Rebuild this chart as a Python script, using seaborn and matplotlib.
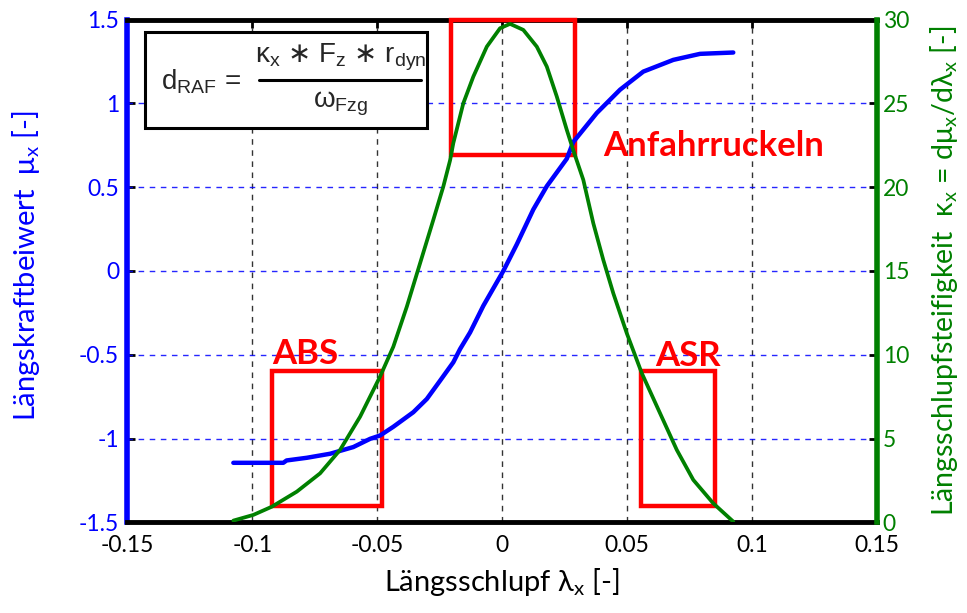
import matplotlib
matplotlib.use("Agg")
import matplotlib.pyplot as plt
import seaborn as sns
import pandas as pd
from matplotlib.patches import Rectangle
from matplotlib.lines import Line2D

# ---- data ----
lam_mu = [-0.1076, -0.0876, -0.0863, -0.0782, -0.0689, -0.0596, -0.0529, -0.0489,
          -0.0436, -0.0356, -0.0302, -0.0249, -0.0196, -0.0169, -0.0129, -0.0076,
          0.0004, 0.0058, 0.0124, 0.0178, 0.0258, 0.0284, 0.0378, 0.0471, 0.0564,
          0.0684, 0.0791, 0.0924]
mu = [-1.145, -1.145, -1.131, -1.115, -1.091, -1.051, -1.002, -0.982,
      -0.930, -0.843, -0.764, -0.655, -0.545, -0.466, -0.367, -0.208,
      0.000, 0.159, 0.367, 0.506, 0.670, 0.770, 0.943, 1.082, 1.190,
      1.260, 1.296, 1.304]

lam_k = [-0.1076, -0.0996, -0.0922, -0.0822, -0.0729, -0.0649, -0.0569, -0.0489,
         -0.0436, -0.0382, -0.0329, -0.0276, -0.0236, -0.0209, -0.0196, -0.0156,
         -0.0116, -0.0062, -0.0009, 0.0031, 0.0084, 0.0138, 0.0178, 0.0218,
         0.0258, 0.0284, 0.0324, 0.0364, 0.0404, 0.0444, 0.0498, 0.0558,
         0.0631, 0.0698, 0.0764, 0.0844, 0.0924]
kappa = [0.10, 0.44, 0.93, 1.83, 2.92, 4.32, 6.30, 8.70,
         10.48, 12.87, 15.46, 18.05, 20.04, 21.60, 22.63, 25.01,
         26.60, 28.39, 29.49, 29.75, 29.39, 28.39, 27.20, 25.41,
         23.42, 22.20, 20.44, 17.85, 15.66, 13.67, 11.28, 8.90,
         6.51, 4.32, 2.53, 1.13, 0.04]

x_ticks = [-0.15, -0.1, -0.05, 0, 0.05, 0.1, 0.15]
x_labels = ["-0.15", "-0.1", "-0.05", "0", "0.05", "0.1", "0.15"]
mu_ticks = [-1.5, -1, -0.5, 0, 0.5, 1, 1.5]
mu_labels = ["-1.5", "-1", "-0.5", "0", "0.5", "1", "1.5"]
k_ticks = [0, 5, 10, 15, 20, 25, 30]
k_labels = ["0", "5", "10", "15", "20", "25", "30"]

# regions: (label, lam_min, lam_max, mu_min, mu_max)
boxes = [("ABS", -0.0922, -0.0482, -1.40, -0.60),
         ("ASR", 0.0555, 0.0851, -1.40, -0.60),
         ("Anfahrruckeln", -0.0206, 0.0291, 0.695, 1.50)]

BLUE = "#0000FF"
GREEN = "#008000"
RED = "#FF0000"

sns.set_style("white")
plt.rcParams["font.family"] = ["Lato", "DejaVu Sans"]

fig = plt.figure(figsize=(9.67, 6.13), dpi=100)
ax = fig.add_axes([0.1317, 0.148, 0.7755, 0.8199])
ax2 = ax.twinx()

df_mu = pd.DataFrame({"lam": lam_mu, "mu": mu})
df_k = pd.DataFrame({"lam": lam_k, "kappa": kappa})

ax.set_xlim(-0.15, 0.15)
ax.set_ylim(-1.5, 1.5)
ax2.set_ylim(0, 30)

# grid
for xv in x_ticks[1:-1]:
    ax.axvline(xv, color="#333333", lw=1.0, ls=(0, (4, 4)), zorder=1)
for yv in mu_ticks[1:-1]:
    ax.axhline(yv, color=BLUE, lw=1.0, ls=(0, (4, 4)), zorder=1, alpha=0.85)

# red boxes
for name, x0, x1, y0, y1 in boxes:
    ax.add_patch(Rectangle((x0, y0), x1 - x0, y1 - y0, fill=False,
                           edgecolor=RED, lw=3.2, zorder=3, clip_on=False))

sns.lineplot(data=df_mu, x="lam", y="mu", ax=ax, color=BLUE, lw=3.2, zorder=4)
sns.lineplot(data=df_k, x="lam", y="kappa", ax=ax2, color=GREEN, lw=2.7, zorder=4)

# region labels
lab_fs = 25
ax.text(-0.0922, -0.555, "ABS", color=RED, fontsize=lab_fs, fontweight="bold",
        ha="left", va="baseline", zorder=5)
ax.text(0.0611, -0.565, "ASR", color=RED, fontsize=lab_fs, fontweight="bold",
        ha="left", va="baseline", zorder=5)
ax.text(0.0404, 0.689, "Anfahrruckeln", color=RED, fontsize=lab_fs, fontweight="bold",
        ha="left", va="baseline", zorder=5)

# formula box
def fx(px):
    return (px - 127.3) / 750.0

def fy(py):
    return (522.3 - py) / 502.6

ax.add_patch(Rectangle((fx(145), fy(128)), fx(427) - fx(145), fy(32) - fy(128),
                       transform=ax.transAxes, facecolor="white",
                       edgecolor="black", lw=2.2, zorder=6))
ffam = "Liberation Sans"
f_fs = 20
ax.text(fx(161), fy(82), r"d$_\mathregular{RAF}$ =", transform=ax.transAxes,
        fontsize=f_fs, family=ffam, ha="left", va="center", zorder=7)
ax.text(fx(341), fy(57),
        r"κ$_\mathregular{x}$ $\ast$ F$_\mathregular{z}$ $\ast$ r$_\mathregular{dyn}$",
        transform=ax.transAxes, fontsize=f_fs, family=ffam, ha="center",
        va="center", zorder=7)
ax.add_line(Line2D([fx(259), fx(421)], [fy(80), fy(80)], transform=ax.transAxes,
                   color="black", lw=2.2, zorder=7))
ax.text(fx(341), fy(104), r"ω$_\mathregular{Fzg}$", transform=ax.transAxes,
        fontsize=f_fs, family=ffam, ha="center", va="center", zorder=7)

# ticks
ax.set_xticks(x_ticks)
ax.set_xticklabels(x_labels)
ax.set_yticks(mu_ticks)
ax.set_yticklabels(mu_labels)
ax2.set_yticks(k_ticks)
ax2.set_yticklabels(k_labels)

tk_fs = 16.5
ax.tick_params(axis="x", direction="in", length=6, width=2, color="black",
               labelsize=tk_fs, labelcolor="black", pad=9, top=True)
ax.tick_params(axis="y", direction="in", length=6, width=2, color="black",
               labelsize=tk_fs, labelcolor=BLUE, pad=6)
ax2.tick_params(axis="y", direction="in", length=6, width=2, color="black",
                labelsize=tk_fs, labelcolor=GREEN, pad=4)

# spines
ax.spines["left"].set_color(BLUE)
ax.spines["left"].set_linewidth(4)
ax.spines["bottom"].set_color("black")
ax.spines["bottom"].set_linewidth(3.5)
ax.spines["top"].set_color("black")
ax.spines["top"].set_linewidth(3.5)
ax.spines["right"].set_visible(False)
ax2.spines["right"].set_color(GREEN)
ax2.spines["right"].set_linewidth(4)
for s in ("left", "top", "bottom"):
    ax2.spines[s].set_visible(False)

# labels
ax.set_xlabel(r"Längsschlupf λ$_\mathregular{x}$ [-]", fontsize=21, color="black")
ax.set_ylabel(r"Längskraftbeiwert  μ$_\mathregular{x}$ [-]", fontsize=21, color=BLUE)
ax2.set_ylabel(r"Längsschlupfsteifigkeit  κ$_\mathregular{x}$ = dμ$_\mathregular{x}$/dλ$_\mathregular{x}$ [-]",
               fontsize=20.5, color=GREEN)
ax.xaxis.set_label_coords(0.5, fy(566))
ax.yaxis.set_label_coords(fx(42), 0.51)
ax2.yaxis.set_label_coords(fx(928), 0.5)

fig.savefig("out.png", dpi=100)
